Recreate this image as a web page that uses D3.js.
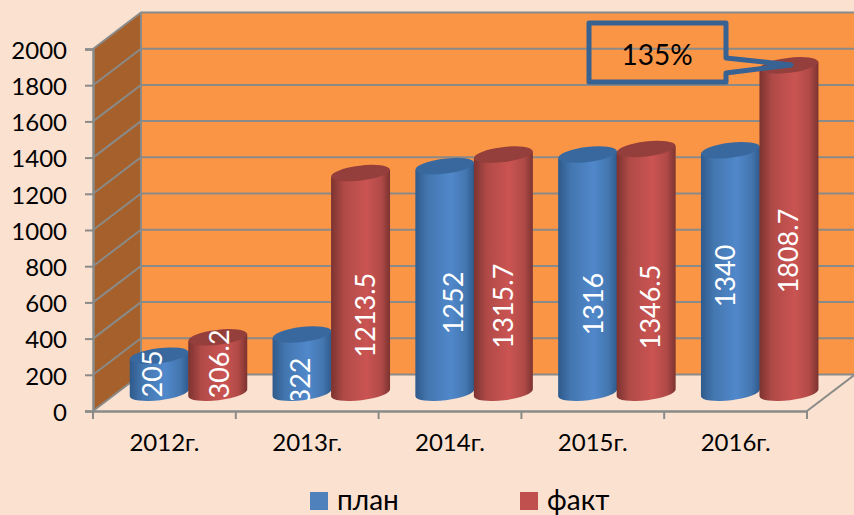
<!DOCTYPE html>
<html>
<head>
<meta charset="utf-8">
<script src="https://cdn.jsdelivr.net/npm/d3@7"></script>
<style>
  html, body { margin: 0; padding: 0; background: #fae1d0; overflow: hidden; }
  text { font-family: Lato, "Open Sans", sans-serif; }
</style>
</head>
<body>
<svg id="chart" width="854" height="515"></svg>
<script>
const categories = ['2012г.', '2013г.', '2014г.', '2015г.', '2016г.'];
const seriesNames = ['план', 'факт'];
const plan = [205, 322, 1252, 1316, 1340];
const fact = [306.2, 1213.5, 1315.7, 1346.5, 1808.7];
const yTicks = [0, 200, 400, 600, 800, 1000, 1200, 1400, 1600, 1800, 2000];
const calloutText = '135%';

const svg = d3.select('#chart');
const defs = svg.append('defs');

// depth of the fake 3d box
const depthX = 48;
const depthY = 36.5;

const x = d3.scaleBand().domain(categories).range([93, 807]);
const y = d3.scaleLinear().domain([0, 2000]).range([411, 49]);
const inner = d3.scaleBand().domain(seriesNames).range([13, 130]);

const gridColor = '#8a8a88';

// Side wall and back wall
svg.append('rect')
    .attr('x', 93 + depthX).attr('y', y(2000) - depthY)
    .attr('width', 714).attr('height', y(0) - y(2000))
    .attr('fill', '#fb9546');
svg.append('polygon')
    .attr('points', [[93, y(0)], [93 + depthX, y(0) - depthY], [93 + depthX, y(2000) - depthY], [93, y(2000)]].join(' '))
    .attr('fill', '#a5602b');

// Gridlines on both walls
const grid = svg.append('g').attr('fill', 'none').attr('stroke', gridColor).attr('stroke-width', 2);
yTicks.forEach(t => {
    grid.append('path')
        .attr('d', d3.line()([[93, y(t)], [93 + depthX, y(t) - depthY], [854, y(t) - depthY]]));
});
grid.append('line')
    .attr('x1', 93 + depthX).attr('x2', 93 + depthX)
    .attr('y1', y(2000) - depthY).attr('y2', y(0) - depthY);

// Floor edge on the right side
grid.append('line')
    .attr('x1', 807).attr('y1', y(0))
    .attr('x2', 807 + depthX).attr('y2', y(0) - depthY);

// Axes
const yAxis = svg.append('g')
    .attr('transform', 'translate(93,0)')
    .call(d3.axisLeft(y).tickValues(yTicks).tickSize(8).tickPadding(18).tickFormat(d3.format('d')));
yAxis.selectAll('text').attr('font-size', 24).attr('fill', '#000').attr('dy', '0.385em');

const xAxis = svg.append('g')
    .attr('transform', `translate(0,${y(0)})`)
    .call(d3.axisBottom(x).tickSize(0).tickPadding(23));
xAxis.selectAll('text').attr('font-size', 24).attr('fill', '#000');
svg.append('g').selectAll('line')
    .data(categories.concat('end'))
    .enter()
    .append('line')
    .attr('x1', d => d === 'end' ? 807 : x(d))
    .attr('x2', d => d === 'end' ? 807 : x(d))
    .attr('y1', y(0)).attr('y2', y(0) + 8)
    .attr('stroke', gridColor).attr('stroke-width', 2);
svg.selectAll('.domain').attr('stroke', gridColor).attr('stroke-width', 2.5);
yAxis.selectAll('line').attr('stroke', gridColor).attr('stroke-width', 2);

// Cylinder shading
function addGradient(id, edge, mid) {
    const g = defs.append('linearGradient').attr('id', id);
    g.append('stop').attr('offset', '0%').attr('stop-color', edge);
    g.append('stop').attr('offset', '22%').attr('stop-color', mid[0]);
    g.append('stop').attr('offset', '60%').attr('stop-color', mid[1]);
    g.append('stop').attr('offset', '85%').attr('stop-color', mid[0]);
    g.append('stop').attr('offset', '100%').attr('stop-color', edge);
}
addGradient('gradPlan', '#2f5a8c', ['#4477b0', '#5088cb']);
addGradient('gradFact', '#7c3330', ['#b04a47', '#ca5452']);

const rx = 29.5;
const ry = 7.5;
const tilt = -7;
const slope = Math.tan(tilt * Math.PI / 180) * rx;

function drawCylinder(cx, yTop, yBase, fill, topFill) {
    const body = `M${cx - rx},${yTop - slope}` +
        `L${cx - rx},${yBase - slope}` +
        `A${rx},${ry} ${tilt} 0 0 ${cx + rx},${yBase + slope}` +
        `L${cx + rx},${yTop + slope}Z`;
    svg.append('path').attr('d', body).attr('fill', `url(#${fill})`);
    svg.append('ellipse')
        .attr('cx', 0).attr('cy', 0)
        .attr('rx', rx).attr('ry', ry)
        .attr('transform', `translate(${cx},${yTop}) rotate(${tilt})`)
        .attr('fill', topFill);
}

// hand placed label centres: height along the bar in axis units, sideways shift in px
const planLabelAt = [104, 65, 496, 490, 645];
const factLabelAt = [159, 429, 479, 474, 783];
const planLabelShift = [-7, -1.5, 9, 6, -5];
const factLabelShift = [2, 5, 0, 4, 0];

// the labels get cut off at the bottom of the bars
defs.append('clipPath').attr('id', 'labelClip')
    .append('rect').attr('x', 0).attr('y', 0).attr('width', 854).attr('height', 400);

categories.forEach((cat, i) => {
    const base = d => y(d) - depthY / 2;
    const cxPlan = x(cat) + depthX / 2 + inner('план') + inner.bandwidth() / 2;
    const cxFact = x(cat) + depthX / 2 + inner('факт') + inner.bandwidth() / 2;

    drawCylinder(cxPlan, base(plan[i]), base(0), 'gradPlan', '#38689e');
    drawCylinder(cxFact, base(fact[i]), base(0), 'gradFact', '#953f3c');
});

const labels = svg.append('g').attr('clip-path', 'url(#labelClip)');
categories.forEach((cat, i) => {
    const base = d => y(d) - depthY / 2;
    const cxPlan = x(cat) + depthX / 2 + inner('план') + inner.bandwidth() / 2;
    const cxFact = x(cat) + depthX / 2 + inner('факт') + inner.bandwidth() / 2;

    [[cxPlan + planLabelShift[i], plan[i], planLabelAt[i]], [cxFact + factLabelShift[i], fact[i], factLabelAt[i]]].forEach(([cx, v, at]) => {
        labels.append('text')
            .attr('transform', `translate(${cx},${base(at)}) rotate(-90)`)
            .attr('text-anchor', 'middle')
            .attr('dy', '0.35em')
            .attr('font-size', 27)
            .attr('fill', '#fff')
            .text(v);
    });
});

// Callout over the last bar
svg.append('polygon')
    .attr('points', [[589, 23], [726, 23], [726, 58], [791, 65], [726, 73], [726, 82], [589, 82]].join(' '))
    .attr('fill', 'none')
    .attr('stroke', '#386292')
    .attr('stroke-width', 5)
    .attr('stroke-linejoin', 'round');
svg.append('text')
    .attr('x', 657).attr('y', 65)
    .attr('text-anchor', 'middle')
    .attr('font-size', 28)
    .attr('fill', '#000')
    .text(calloutText);

// Legend
const legendX = d3.scaleOrdinal().domain(seriesNames).range([310, 520]);
const legendColor = d3.scaleOrdinal().domain(seriesNames).range(['#4f81bd', '#c0504d']);
seriesNames.forEach(name => {
    svg.append('rect')
        .attr('x', legendX(name)).attr('y', 492)
        .attr('width', 18).attr('height', 18)
        .attr('fill', legendColor(name));
    svg.append('text')
        .attr('x', legendX(name) + 27).attr('y', 510)
        .attr('font-size', 28)
        .attr('fill', '#000')
        .text(name);
});
</script>
</body>
</html>
